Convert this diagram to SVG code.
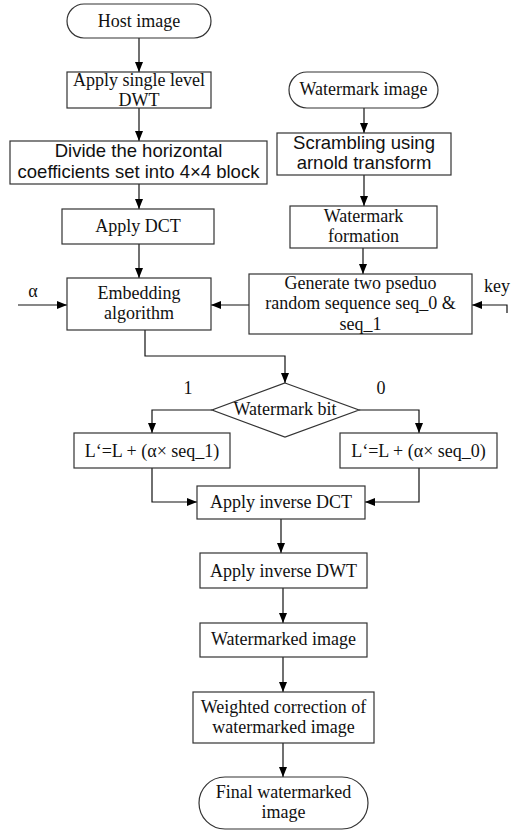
<svg xmlns="http://www.w3.org/2000/svg" width="528" height="831" viewBox="0 0 528 831">
<defs>
<marker id="arr" markerUnits="userSpaceOnUse" markerWidth="10" markerHeight="8" refX="10" refY="4" orient="auto">
<path d="M0,0 L10,4 L0,8 z" fill="#000"/>
</marker>
</defs>
<style>
.box{fill:#fff;stroke:#333;stroke-width:1.2}
.t{font-family:"Liberation Serif","Times New Roman",serif;font-size:18px;fill:#111;text-anchor:middle}
.s{font-family:"Liberation Sans",Arial,sans-serif;font-size:18.5px;fill:#111;text-anchor:middle}
.c{fill:none;stroke:#111;stroke-width:1.2;marker-end:url(#arr)}
</style>
<rect width="528" height="831" fill="#fff"/>
<g id="connectors">
<path class="c" d="M139,38 V72"/>
<path class="c" d="M139,108 V141"/>
<path class="c" d="M139,184 V209"/>
<path class="c" d="M139,244 V278"/>
<path class="c" d="M364,108 V133"/>
<path class="c" d="M364,175 V206"/>
<path class="c" d="M363,248 V274"/>
<path class="c" d="M249,305 H211"/>
<path class="c" d="M18,305 H67"/>
<path class="c" d="M507,313 V305 H472"/>
<path class="c" d="M145,330 V356 H285 V383"/>
<path class="c" d="M212,410 H152 V433"/>
<path class="c" d="M359,410 H419 V433"/>
<path class="c" d="M152,468 V502 H197"/>
<path class="c" d="M419,468 V502 H365"/>
<path class="c" d="M281,519 V553"/>
<path class="c" d="M283,588 V623"/>
<path class="c" d="M283,657 V692"/>
<path class="c" d="M283,743 V777"/>
</g>
<g id="host"><rect class="box" x="67" y="4" width="144" height="34" rx="17"/><text class="t" x="139" y="27">Host image</text></g>
<g id="dwt"><rect class="box" x="67" y="72" width="144" height="36"/><text class="t" x="139" y="86">Apply single level</text><text class="t" x="139" y="106">DWT</text></g>
<g id="divide"><rect class="box" x="10" y="141" width="257" height="43"/><text class="s" x="138.5" y="157">Divide the horizontal</text><text class="s" x="138.5" y="178">coefficients set into 4×4 block</text></g>
<g id="dct"><rect class="box" x="62" y="209" width="152" height="35"/><text class="t" x="138" y="232">Apply DCT</text></g>
<g id="embed"><rect class="box" x="67" y="278" width="144" height="52"/><text class="t" x="139" y="299">Embedding</text><text class="t" x="139" y="319">algorithm</text></g>
<g id="alpha"><text class="t" x="33" y="297">α</text></g>
<g id="wmimage"><rect class="box" x="289" y="72" width="149" height="36" rx="18"/><text class="t" x="363.5" y="95">Watermark image</text></g>
<g id="scramble"><rect class="box" x="277" y="133" width="174" height="42"/><text class="s" x="364" y="149">Scrambling using</text><text class="s" x="364" y="169">arnold transform</text></g>
<g id="formation"><rect class="box" x="290" y="206" width="147" height="42"/><text class="t" x="363.5" y="222">Watermark</text><text class="t" x="363.5" y="242">formation</text></g>
<g id="generate"><rect class="box" x="249" y="274" width="223" height="60"/><text class="t" x="360.5" y="289">Generate two pseduo</text><text class="t" x="360.5" y="309">random sequence seq_0 &amp;</text><text class="t" x="360.5" y="330">seq_1</text></g>
<g id="key"><text class="t" x="497" y="292">key</text></g>
<g id="diamond"><path class="box" d="M285,383 L359,410 L285,437 L212,410 z"/><text class="t" x="285" y="415">Watermark bit</text></g>
<g id="lab1"><text class="t" x="188" y="394">1</text></g>
<g id="lab0"><text class="t" x="381" y="394">0</text></g>
<g id="left"><rect class="box" x="74" y="433" width="156" height="35"/><text class="t" x="152" y="457">L‘=L + (α× seq_1)</text></g>
<g id="right"><rect class="box" x="340" y="433" width="157" height="35"/><text class="t" x="418.5" y="457">L‘=L + (α× seq_0)</text></g>
<g id="idct"><rect class="box" x="197" y="486" width="168" height="33"/><text class="t" x="281" y="508">Apply inverse DCT</text></g>
<g id="idwt"><rect class="box" x="200" y="553" width="167" height="35"/><text class="t" x="283.5" y="577">Apply inverse DWT</text></g>
<g id="watermarked"><rect class="box" x="200" y="623" width="167" height="34"/><text class="t" x="283.5" y="645">Watermarked image</text></g>
<g id="weighted"><rect class="box" x="193" y="692" width="181" height="51"/><text class="t" x="283.5" y="713">Weighted correction of</text><text class="t" x="283.5" y="733">watermarked image</text></g>
<g id="final"><rect class="box" x="199" y="777" width="169" height="52" rx="26"/><text class="t" x="283.5" y="798">Final watermarked</text><text class="t" x="283.5" y="818">image</text></g>
</svg>
